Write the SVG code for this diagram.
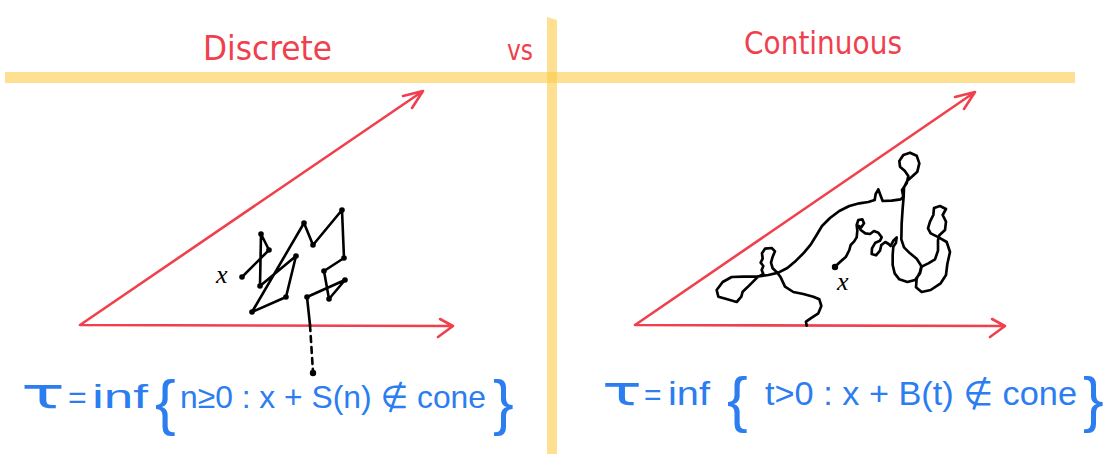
<svg xmlns="http://www.w3.org/2000/svg" width="1116" height="454" viewBox="0 0 1116 454">
<style>
.bar{fill:#FBCB4A;opacity:0.6}
.red{fill:none;stroke:#F0404E;stroke-width:2.6;stroke-linecap:round;stroke-linejoin:round}
.walk{fill:none;stroke:#000;stroke-width:2.6;stroke-linecap:round;stroke-linejoin:round}
.bm{fill:none;stroke:#000;stroke-width:8;stroke-linecap:round;stroke-linejoin:round}
.dot{fill:#000}
.title{fill:#F0404E;font-family:"DejaVu Sans","Liberation Sans",sans-serif}
.f{fill:#2B7DF0;font-family:"Liberation Sans","DejaVu Sans",sans-serif}
.tau{fill:#2B7DF0;font-family:"DejaVu Sans","Liberation Sans",sans-serif}
.lab{fill:#000;font-family:"Liberation Serif",serif;font-style:italic;font-size:26px}
</style>
<rect width="1116" height="454" fill="#fff"/>
<g id="dividers">
<rect class="bar" x="5" y="72" width="1070" height="11"/>
<polygon class="bar" points="547,17 557,20 557,454 547,454"/>
</g>
<g id="titles">
<text class="title" x="203" y="60" font-size="34" textLength="129" lengthAdjust="spacingAndGlyphs">Discrete</text>
<text class="title" x="507" y="60" font-size="28" textLength="26" lengthAdjust="spacingAndGlyphs">vs</text>
<text class="title" x="744" y="54" font-size="32" textLength="158" lengthAdjust="spacingAndGlyphs">Continuous</text>
</g>
<g id="cone-left">
<path class="red" d="M80,325 L423,91 M403,96 L423,91 L412,108 M80,325 L453,326 M440,319 L453,326 L438,337"/>
</g>
<g id="cone-right">
<path class="red" d="M635,325 L975,92 M955,97 L975,92 L964,109 M635,325 L1005,326 M992,319 L1005,326 L990,337"/>
</g>
<g id="discrete-walk">
<path class="walk" d="M242,277 L269,250 L261,234 L260,286 L296,256 L286,297 L252,312 L304,223 L313,245 L342,210 L344,258 L324,271 L329,299 L345,280 L307,297 L310,325"/>
<path class="walk" d="M310,325 L313,372" stroke-dasharray="6,5"/>
<g class="dot">
<circle cx="242" cy="277" r="2.8"/><circle cx="269" cy="250" r="2.8"/><circle cx="261" cy="234" r="2.8"/>
<circle cx="260" cy="286" r="2.8"/><circle cx="296" cy="256" r="2.8"/><circle cx="286" cy="297" r="2.8"/>
<circle cx="252" cy="312" r="2.8"/><circle cx="304" cy="223" r="2.8"/><circle cx="313" cy="245" r="2.8"/>
<circle cx="342" cy="210" r="2.8"/><circle cx="344" cy="258" r="2.8"/><circle cx="324" cy="271" r="2.8"/>
<circle cx="329" cy="299" r="2.8"/><circle cx="345" cy="280" r="2.8"/><circle cx="307" cy="297" r="2.8"/>
<circle cx="313" cy="373" r="3.2"/>
</g>
<text class="lab" x="216" y="283">x</text>
</g>
<g id="continuous-walk">
<path class="bm" transform="translate(700 140) scale(0.333333)" d="M405,380 L420,366 L438,350 L448,330 L452,315 L462,305 L470,292 L472,272 L470,255 L475,240 L487,238 L492,250 L484,262 L476,258 L482,270 L496,280 L510,282 L522,273 L535,278 L545,292 L540,302 L526,308 L516,325 L515,342 L528,346 L540,332 L544,315 L556,306 L566,312 L572,318 L580,302 L590,292 L588,308 L580,320 L578,345 L578,375 L584,400 L598,418 L622,426 L645,420 L660,400 L665,380 L685,370 L705,358 L714,332 L714,300 L718,286 L735,270 L738,245 L728,225 L738,207 L720,198 L702,204 L700,225 L690,245 L684,265 L692,280 L716,292 L740,306 L750,336 L742,372 L738,405 L722,430 L692,450 L665,456 L648,442 L650,416 L660,396 L664,378 L650,356 L630,340 L612,322 L604,298 L605,250 L608,205 L611,170 L612,142 L622,122 L638,108 L652,95 L658,70 L650,47 L630,38 L610,45 L598,63 L600,80 L614,92 L625,108 L620,130 L606,150 L610,170 L602,178 L575,182 L548,183 L540,162 L535,148 L527,162 L524,180 L505,186 L478,190 L448,198 L418,213 L390,234 L366,258 L348,288 L332,314 L312,338 L288,362 L262,384 L235,398 L205,405 L170,410 L130,410 L95,411 L68,426 L50,450 L55,470 L82,478 L110,486 L124,470 L128,455 L142,442 L160,424 L172,412 L190,402 L185,390 L190,378 L182,368 L188,356 L186,340 L195,326 L215,324 L225,334 L218,350 L213,368 L218,385 L232,398 L242,412 L255,440 L280,456 L310,462 L340,470 L358,478 L364,498 L355,520 L332,535 L318,545 L320,557"/>
<circle class="dot" cx="835" cy="267" r="3.2"/>
<text class="lab" x="837" y="290">x</text>
</g>
<g id="formula-discrete">
<text class="tau" x="21" y="408" font-size="42" textLength="44" lengthAdjust="spacingAndGlyphs">τ</text>
<text class="f" x="68" y="408" font-size="32">=</text>
<text class="f" x="92" y="408" font-size="34" textLength="56" lengthAdjust="spacingAndGlyphs">inf</text>
<text class="f" x="155" y="423" font-size="62">{</text>
<text class="f" x="180" y="408" font-size="32" textLength="306" lengthAdjust="spacingAndGlyphs">n≥0 : x + S(n) ∉ cone</text>
<text class="f" x="493" y="423" font-size="62">}</text>
</g>
<g id="formula-continuous">
<text class="tau" x="602" y="405" font-size="40" textLength="40" lengthAdjust="spacingAndGlyphs">τ</text>
<text class="f" x="644" y="405" font-size="30">=</text>
<text class="f" x="668" y="405" font-size="34" textLength="42" lengthAdjust="spacingAndGlyphs">inf</text>
<text class="f" x="727" y="420" font-size="62">{</text>
<text class="f" x="765" y="405" font-size="34" textLength="312" lengthAdjust="spacingAndGlyphs">t&gt;0 : x + B(t) ∉ cone</text>
<text class="f" x="1083" y="420" font-size="62">}</text>
</g>
</svg>
